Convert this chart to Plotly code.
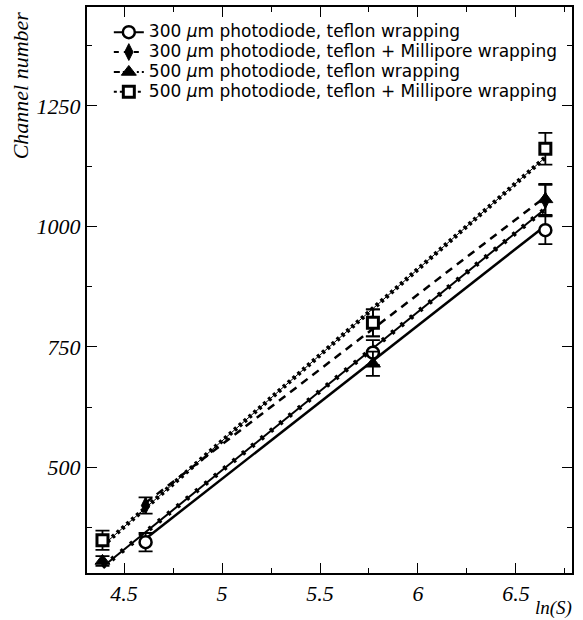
import numpy as np
import plotly.graph_objects as go

# ---- data ----
x_300_teflon = [4.61, 5.77, 6.65]
y_300_teflon = [345, 738, 992]
e_300_teflon = [19, 26, 29]

x_300_milli = [4.61, 5.77, 6.65]
y_300_milli = [421, 800, 1054]
e_300_milli = [17, 28, 32]

x_500_teflon = [4.39, 5.77, 6.65]
y_500_teflon = [306, 715, 1056]
e_500_teflon = [10, 25, 32]

x_500_milli = [4.39, 5.77, 6.65]
y_500_milli = [349, 800, 1161]
e_500_milli = [20, 28, 33]

labels = [
    "300 <i>μ</i>m photodiode, teflon wrapping",
    "300 <i>μ</i>m photodiode, teflon + Millipore wrapping",
    "500 <i>μ</i>m photodiode, teflon wrapping",
    "500 <i>μ</i>m photodiode, teflon + Millipore wrapping",
]
x_ticks = [4.5, 5, 5.5, 6, 6.5]
x_tick_text = ["4.5", "5", "5.5", "6", "6.5"]
y_ticks = [500, 750, 1000, 1250]
y_tick_text = ["500", "750", "1000", "1250"]

series = [
    (x_300_teflon, y_300_teflon, e_300_teflon),
    (x_300_milli, y_300_milli, e_300_milli),
    (x_500_teflon, y_500_teflon, e_500_teflon),
    (x_500_milli, y_500_milli, e_500_milli),
]
markers = [
    dict(symbol="circle", size=12, color="white", line=dict(color="black", width=2.5)),
    dict(symbol="diamond-tall", size=12, color="black", line=dict(color="black", width=1)),
    dict(symbol="triangle-up", size=13, color="black", line=dict(color="black", width=1)),
    dict(symbol="square", size=11, color="white", line=dict(color="black", width=3)),
]
dashes = ["solid", "5px,5px", "6px,3px,2px,3px", "3px,3px"]

fig = go.Figure()

# fitted lines
for i, (xs, ys, es) in enumerate(series):
    k, b = np.polyfit(xs, ys, 1)
    xf = np.array([xs[0], xs[-1]])
    yf = k * xf + b
    if i == 0:
        fig.add_trace(go.Scatter(x=xf, y=yf, mode="lines", showlegend=False,
                                 line=dict(color="black", width=2.5)))
    elif i == 1:
        fig.add_trace(go.Scatter(x=xf, y=yf, mode="lines", showlegend=False,
                                 line=dict(color="black", width=2.5, dash="8px,6px")))
    elif i == 2:
        fig.add_trace(go.Scatter(x=xf, y=yf, mode="lines", showlegend=False,
                                 line=dict(color="black", width=2)))
        fig.add_trace(go.Scatter(x=xf, y=yf, mode="lines", showlegend=False,
                                 line=dict(color="black", width=5, dash="3px,9px")))
    else:
        fig.add_trace(go.Scatter(x=xf, y=yf, mode="lines", showlegend=False,
                                 line=dict(color="black", width=1)))
        fig.add_trace(go.Scatter(x=xf, y=yf, mode="lines", showlegend=False,
                                 line=dict(color="black", width=4.5, dash="3px,3.5px")))

# data points with error bars
for i, (xs, ys, es) in enumerate(series):
    fig.add_trace(go.Scatter(
        x=xs, y=ys, mode="markers", showlegend=False, marker=markers[i],
        error_y=dict(type="data", array=es, visible=True, color="black",
                     thickness=1.8, width=7)))

# legend entries
for i in range(4):
    fig.add_trace(go.Scatter(x=[None], y=[None], mode="lines+markers",
                             name='<span style="font-size:17px">' + labels[i] + "</span>",
                             marker=markers[i],
                             line=dict(color="black", width=2, dash=dashes[i])))

axis_common = dict(
    showline=True, linecolor="black", linewidth=2, mirror="allticks",
    ticks="inside", ticklen=10, tickwidth=1, tickcolor="black",
    showgrid=False, zeroline=False,
    tickfont=dict(family="Liberation Serif", size=22, color="black", style="italic"),
    minor=dict(ticks="inside", ticklen=5, tickwidth=1, tickcolor="black", showgrid=False),
)

fig.update_xaxes(range=[4.311, 6.786], tickvals=x_ticks, ticktext=x_tick_text,
                 minor_dtick=0.25, minor_tick0=4.25, **axis_common)
fig.update_yaxes(range=[281, 1455], tickvals=y_ticks, ticktext=y_tick_text,
                 minor_dtick=125, minor_tick0=0, **axis_common)

fig.add_annotation(text="Channel number", xref="paper", yref="paper",
                   x=-0.138, y=0.996, xanchor="center", yanchor="top",
                   textangle=-90, showarrow=False,
                   font=dict(family="Liberation Serif", size=22, color="black", style="italic"))
fig.add_annotation(text="ln(S)", xref="paper", yref="paper",
                   x=1.004, y=-0.062, xanchor="right", yanchor="middle",
                   showarrow=False,
                   font=dict(family="Liberation Serif", size=19, color="black", style="italic"))

fig.update_layout(
    width=583, height=620,
    margin=dict(l=87, r=11, t=5, b=47),
    plot_bgcolor="white", paper_bgcolor="white",
    legend=dict(x=0.045, y=0.982, xanchor="left", yanchor="top",
                bgcolor="rgba(0,0,0,0)", borderwidth=0,
                font=dict(family="DejaVu Sans", size=13, color="black"),
                itemwidth=30, tracegroupgap=0),
)

fig.write_html("out.html")
